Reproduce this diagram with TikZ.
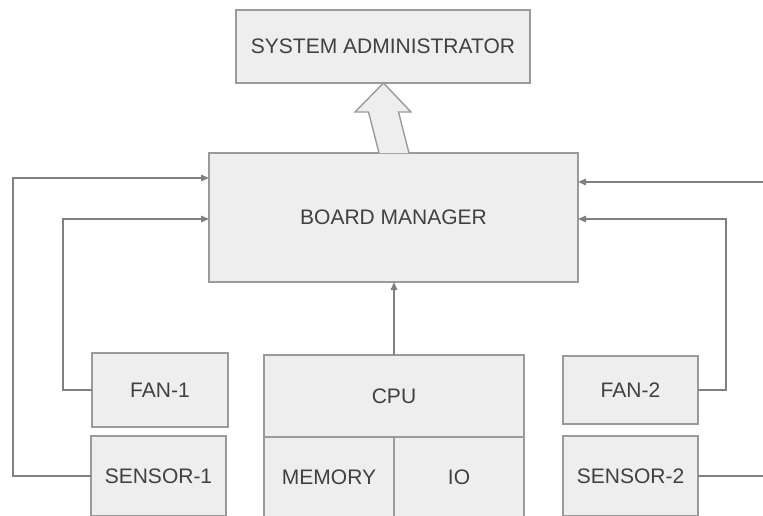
\documentclass[tikz,border=0pt]{standalone}
\usepackage{fontspec}
\setmainfont{Liberation Sans}
\usetikzlibrary{arrows.meta,calc}
\definecolor{boxfill}{HTML}{EEEEEE}
\definecolor{boxline}{HTML}{9A9A9A}
\definecolor{conline}{HTML}{808080}
\definecolor{txt}{HTML}{404040}
\begin{document}
\begin{tikzpicture}[x=1pt,y=-1pt,
  blk/.style={draw=boxline,fill=boxfill,line width=1.4pt,inner sep=0pt,outer sep=0pt,
    text=txt,font=\fontsize{21}{24}\selectfont,anchor=north west},
  conn/.style={draw=conline,line width=1.4pt,-{Triangle[length=8pt,width=6.5pt]}},
  plain/.style={draw=conline,line width=1.4pt}]
\useasboundingbox (0,0) rectangle (763,515);
\clip (0,0) rectangle (763,515);
% boxes
\node[blk,minimum width=294pt,minimum height=73pt] (sa) at (236,10) {SYSTEM ADMINISTRATOR};
\node[blk,minimum width=369pt,minimum height=129pt] (bm) at (209,153) {BOARD MANAGER};
\node[blk,minimum width=136pt,minimum height=74pt] (f1) at (92,353) {FAN-1};
\node[blk,minimum width=135pt,minimum height=80pt] (s1) at (91,436) {SENSOR-1};
\node[blk,minimum width=260pt,minimum height=82pt] (cpu) at (264,355) {CPU};
\node[blk,minimum width=130pt,minimum height=80pt] (mem) at (264,437) {MEMORY};
\node[blk,minimum width=130pt,minimum height=80pt] (io) at (394,437) {IO};
\node[blk,minimum width=135pt,minimum height=68pt] (f2) at (563,356) {FAN-2};
\node[blk,minimum width=135pt,minimum height=80pt] (s2) at (563,436) {SENSOR-2};
% block arrow from board manager to system administrator
\draw[draw=boxline,fill=boxfill,line width=1.4pt]
  ($(bm.north)+(-14.5,0)$) -- ($(sa.south)+(-14.5,29)$) -- ($(sa.south)+(-28,29)$)
  -- ($(sa.south)+(0.5,0)$) -- ($(sa.south)+(28,29)$) -- ($(sa.south)+(15.5,29)$)
  -- ($(bm.north)+(15.5,0)$);
% connector coordinates
\coordinate (l1) at (13,178);
\coordinate (l2) at (63,219);
\coordinate (r1) at (763,182);
\coordinate (r2) at (726,219);
\coordinate (r3) at (763,476);
% connectors
\draw[conn] (s1.west) -| (l1) -- (bm.west |- l1);
\draw[conn] (f1.west) -| (l2) -- (bm.west |- l2);
\draw[conn] (r1) -- (bm.east |- r1);
\draw[conn] (f2.east) -| (r2) -- (bm.east |- r2);
\draw[plain] (s2.east) -- (r3);
\draw[conn] (cpu.north) -- (bm.south -| cpu.north);
\end{tikzpicture}
\end{document}
